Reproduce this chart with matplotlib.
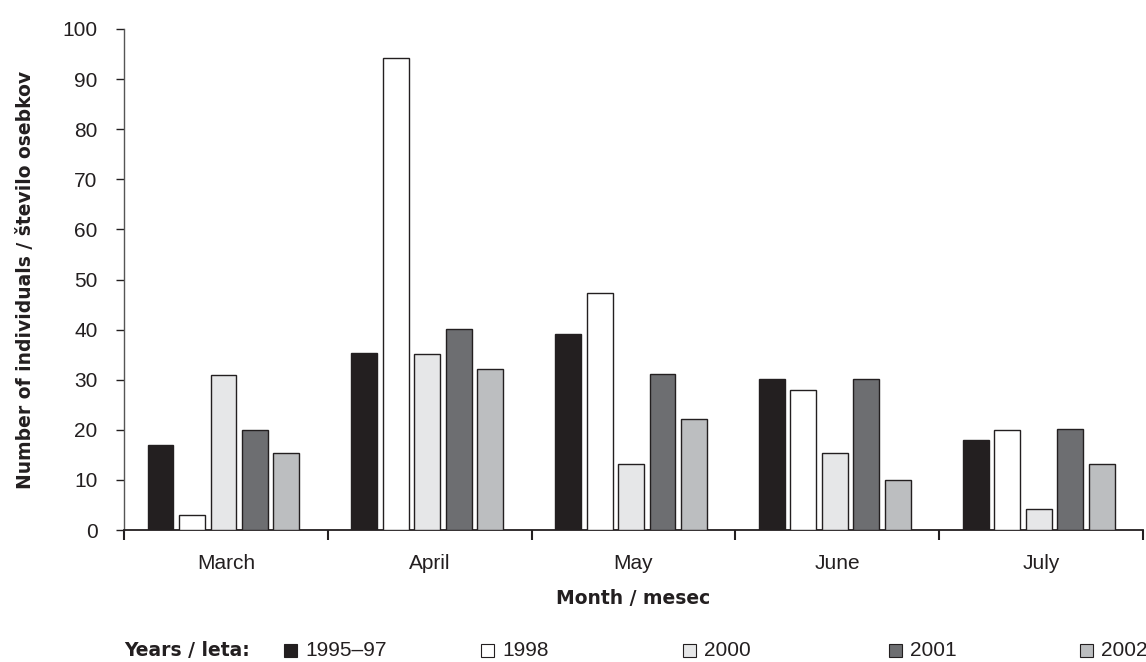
import numpy as np
import matplotlib
matplotlib.use("Agg")
import matplotlib.pyplot as plt
from matplotlib import font_manager
from matplotlib.patches import Rectangle

months = ["March", "April", "May", "June", "July"]
years = ["1995\u201397", "1998", "2000", "2001", "2002"]

v_1995_97 = [17.0, 35.4, 39.1, 30.1, 17.9]
v_1998 = [3.0, 94.3, 47.3, 28.0, 19.9]
v_2000 = [31.0, 35.2, 13.1, 15.3, 4.2]
v_2001 = [20.0, 40.1, 31.2, 30.1, 20.1]
v_2002 = [15.3, 32.2, 22.1, 10.0, 13.1]
series = [v_1995_97, v_1998, v_2000, v_2001, v_2002]

colors = ["#231f20", "#ffffff", "#e6e7e8", "#6d6e71", "#bcbec0"]
ink = "#231f20"

have_narrow = any(f.name == "Liberation Sans Narrow"
                  for f in font_manager.fontManager.ttflist)
if have_narrow:
    tick_font = dict(family="Liberation Sans Narrow", size=16)
else:
    tick_font = dict(family="Liberation Sans", size=15)
bold_font = dict(family="DejaVu Sans", size=13.5, weight="bold")

fig = plt.figure(figsize=(11.46, 6.62), dpi=100)
ax = fig.add_axes([124 / 1146, 132 / 662, 1019 / 1146, 501 / 662])

x = np.arange(len(months))
step = 0.1544
width = 0.127
for i, vals in enumerate(series):
    ax.bar(x + (i - 2) * step - 0.012, vals, width, color=colors[i],
           edgecolor=ink, linewidth=1.0, zorder=3)

ax.set_xlim(-0.5, len(months) - 0.5)
ax.set_ylim(0, 100)
ax.set_yticks(np.arange(0, 101, 10))
ax.set_yticklabels([str(t) for t in range(0, 101, 10)], fontdict=tick_font,
                   color=ink)
ax.tick_params(axis="y", direction="out", length=6, width=1.0, pad=13,
               color=ink)

# group boundaries as major ticks, month names on minor ticks
ax.set_xticks(np.arange(-0.5, len(months), 1.0))
ax.set_xticklabels([])
ax.set_xticks(x, minor=True)
ax.set_xticklabels(months, minor=True, fontdict=tick_font, color=ink)
ax.tick_params(axis="x", which="major", direction="out", length=7, width=1.5,
               color=ink)
ax.tick_params(axis="x", which="minor", length=0, pad=17)

for s in ["top", "right"]:
    ax.spines[s].set_visible(False)
ax.spines["left"].set_color("#555555")
ax.spines["left"].set_linewidth(1.0)
ax.spines["bottom"].set_color(ink)
ax.spines["bottom"].set_linewidth(1.3)

ax.set_xlabel("Month / mesec", fontdict=bold_font, color=ink, labelpad=12)
ax.set_ylabel("Number of individuals / \u0161tevilo osebkov", fontdict=bold_font,
              color=ink, labelpad=20)

# legend row along the bottom edge
legend_y = 12 / 662
fig.text(124 / 1146, legend_y, "Years / leta:", fontdict=bold_font, color=ink,
         va="center", ha="left")
legend_x = [284, 481, 683, 889, 1080]
box = 13
for px, c, label in zip(legend_x, colors, years):
    fig.patches.append(Rectangle((px / 1146, legend_y - box / 2 / 662),
                                 box / 1146, box / 662, facecolor=c,
                                 edgecolor=ink, linewidth=0.8,
                                 transform=fig.transFigure, figure=fig))
    fig.text((px + box + 8) / 1146, legend_y, label, fontdict=tick_font,
             color=ink, va="center", ha="left")

fig.savefig("out.png", dpi=100)
